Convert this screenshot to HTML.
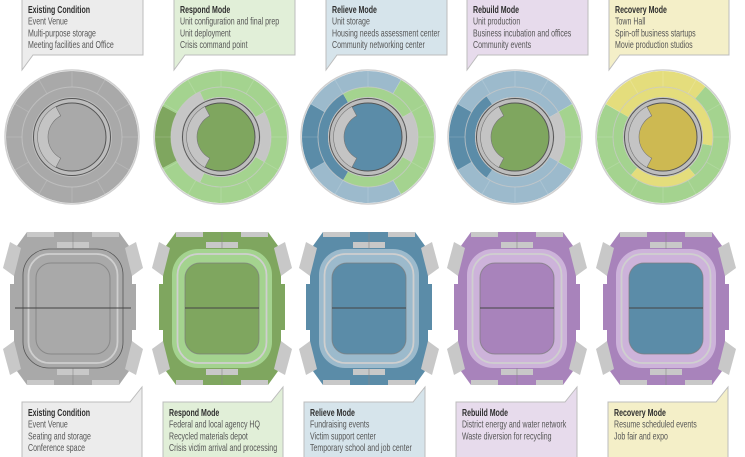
<!DOCTYPE html>
<html><head><meta charset="utf-8">
<style>
html,body{margin:0;padding:0;background:#fff;}
svg{display:block;}
text{font-family:"Liberation Sans Narrow","Liberation Sans",sans-serif;font-size:10.5px;fill:#555;}
text.t{font-weight:bold;fill:#2e2e2e;}
</style></head>
<body>
<svg id="s" width="745" height="457" viewBox="0 0 745 457" xmlns="http://www.w3.org/2000/svg"></svg>
<script>
(function(){
const S=document.getElementById('s');
let out='';
function P(a,r,cx,cy){const t=(a-90)*Math.PI/180;return [cx+r*Math.cos(t),cy+r*Math.sin(t)];}
function sector(cx,cy,r1,r2,a0,a1,fill,extra){
  const large=(a1-a0)>180?1:0;
  const p1=P(a0,r2,cx,cy),p2=P(a1,r2,cx,cy),p3=P(a1,r1,cx,cy),p4=P(a0,r1,cx,cy);
  return `<path d="M${p1[0]},${p1[1]} A${r2},${r2} 0 ${large} 1 ${p2[0]},${p2[1]} L${p3[0]},${p3[1]} A${r1},${r1} 0 ${large} 0 ${p4[0]},${p4[1]} Z" fill="${fill}" ${extra||''}/>`;
}
const G='#a9a9a9',LG='#c6c6c6',GL='#a4d38f',GD='#7fa65f',BL='#9cbacc',BD='#5b8ca8',YL='#e4dd7c',YD='#cdb952',PU='#a883bb',PL='#cdb3da';
const cols=[72,221,368,515,663];
const circ=[
 {outer:[[0,360,G]],mid:[[0,360,G]],inner:G},
 {outer:[[0,242,GL],[242,298,GD],[298,360,GL]],mid:[[0,60,GL],[60,120,LG],[120,205,GL],[205,335,LG],[335,360,GL]],inner:GD},
 {outer:[[0,30,BL],[30,150,GL],[150,240,BL],[240,300,BD],[300,360,BL]],mid:[[0,60,GL],[60,120,LG],[120,210,GL],[210,330,BD],[330,360,GL]],inner:BD},
 {outer:[[0,60,BL],[60,120,GL],[120,240,BL],[240,300,BD],[300,360,BL]],mid:[[0,60,BL],[60,120,LG],[120,215,BL],[215,325,BD],[325,360,BL]],inner:GD},
 {outer:[[0,40,YL],[40,300,GL],[300,360,YL]],mid:[[0,100,YL],[100,140,GL],[140,220,YL],[220,300,GL],[300,360,YL]],inner:YD}
];
const cy=137;
cols.forEach((cx,i)=>{
  const c=circ[i];
  out+=`<circle cx="${cx}" cy="${cy}" r="67" fill="#fff" stroke="#d0d0d0" stroke-width="1.5"/>`;
  c.outer.forEach(s=>{ if(s[1]-s[0]>=360){out+=`<circle cx="${cx}" cy="${cy}" r="66" fill="${s[2]}"/>`;} else out+=sector(cx,cy,50,66,s[0],s[1],s[2]);});
  c.mid.forEach(s=>{ if(s[1]-s[0]>=360){out+=`<circle cx="${cx}" cy="${cy}" r="50" fill="${s[2]}"/>`;} else out+=sector(cx,cy,40,50,s[0],s[1],s[2]);});
  for(let a=0;a<360;a+=30){const p=P(a,50,cx,cy),q=P(a,66,cx,cy);out+=`<line x1="${p[0]}" y1="${p[1]}" x2="${q[0]}" y2="${q[1]}" stroke="#fff" stroke-opacity="0.15"/>`;}
  out+=`<circle cx="${cx}" cy="${cy}" r="50" fill="none" stroke="#c8c8c8" stroke-opacity="0.7" stroke-width="1"/>`;
  out+=`<circle cx="${cx}" cy="${cy}" r="40" fill="#bdbdbd"/>`;
  out+=`<circle cx="${cx}" cy="${cy}" r="38.5" fill="none" stroke="#555" stroke-width="1"/>`;
  out+=`<circle cx="${cx}" cy="${cy}" r="34" fill="${c.inner}" stroke="#555" stroke-width="1"/>`;
  out+=sector(cx,cy,24,34.5,208,332,'#c4c4c4','stroke="#777" stroke-width="0.6"');
});
const st=[
 {body:G,ring:G,field:'#a9a9a9',grey:true},
 {body:GD,ring:GL,field:GD},
 {body:BD,ring:BL,field:BD},
 {body:PU,ring:PL,field:PU},
 {body:PU,ring:PL,field:BD}
];
const sc=[73,222,369,517,666];
sc.forEach((cx,i)=>{
  const s=st[i];const T=232,B=385;
  const X=d=>cx+d;
  out+=`<polygon points="${X(-46)},${T} ${X(46)},${T} ${X(59)},${T+18} ${X(59)},${B-18} ${X(46)},${B} ${X(-46)},${B} ${X(-59)},${B-18} ${X(-59)},${T+18}" fill="${s.body}"/>`;
  out+=`<rect x="${X(-63)}" y="284" width="6" height="46" fill="${s.body}"/><rect x="${X(57)}" y="284" width="6" height="46" fill="${s.body}"/>`;
  [[1,1],[-1,1],[1,-1],[-1,-1]].forEach(([sx,sy])=>{
    const m=(cx2,y)=>`${cx+sx*cx2},${sy>0?y:(T+B)-y}`;
    out+=`<polygon points="${m(52,248)} ${m(63,242)} ${m(70,268)} ${m(59,276)}" fill="#c8c8c8"/>`;
  });
  out+=`<rect x="${X(-46)}" y="${T}" width="27" height="5" fill="#c8c8c8"/><rect x="${X(19)}" y="${T}" width="27" height="5" fill="#c8c8c8"/>`;
  out+=`<rect x="${X(-46)}" y="${B-5}" width="27" height="5" fill="#c8c8c8"/><rect x="${X(19)}" y="${B-5}" width="27" height="5" fill="#c8c8c8"/>`;
  out+=`<rect x="${X(-16)}" y="242" width="32" height="6" fill="#c8c8c8"/><rect x="${X(-16)}" y="369" width="32" height="6" fill="#c8c8c8"/>`;
  out+=`<line x1="${cx}" y1="${T}" x2="${cx}" y2="${B}" stroke="#888" stroke-width="0.6"/>`;
  out+=`<rect x="${X(-50)}" y="249" width="100" height="119" rx="26" fill="${s.ring}" ${s.grey?'stroke="#555" stroke-width="0.8"':''}/>`;
  out+=`<rect x="${X(-44.5)}" y="254" width="89" height="109" rx="21" fill="none" stroke="#cfcfcf" stroke-width="1.8"/>`;
  out+=`<rect x="${X(-37)}" y="263" width="74" height="91" rx="15" fill="${s.field}" stroke="#7a7a7a" stroke-opacity="0.7" stroke-width="1"/>`;
  const lw=s.grey?58:37;
  out+=`<line x1="${X(-lw)}" y1="308" x2="${X(lw)}" y2="308" stroke="#444" stroke-width="0.9"/>`;
});
function tx(x,y,str,cls){return `<text ${cls?'class="t"':''} transform="translate(${x},${y}) scale(0.67,1)">${str}</text>`;}
const topBoxes=[
 {x:22,w:121,f:'#ececec',L:['Existing Condition','Event Venue','Multi-purpose storage','Meeting facilities and Office']},
 {x:174,w:121,f:'#e1efd8',L:['Respond Mode','Unit configuration and final prep','Unit deployment','Crisis command point']},
 {x:326,w:121,f:'#d6e4eb',L:['Relieve Mode','Unit storage','Housing needs assessment center','Community networking center']},
 {x:467,w:121,f:'#e7dbec',L:['Rebuild Mode','Unit production','Business incubation and offices','Community events']},
 {x:609,w:120,f:'#f4efc8',L:['Recovery Mode','Town Hall','Spin-off business startups','Movie production studios']}
];
topBoxes.forEach(b=>{
  const x=b.x,r=b.x+b.w;
  out+=`<path d="M${x},-1 L${r},-1 L${r},55 L${x+11},55 L${x},70 Z" fill="${b.f}" stroke="#bcbcbc" stroke-width="1"/>`;
  b.L.forEach((l,j)=>out+=tx(x+6,13+j*11.7,l,j==0));
});
const botBoxes=[
 {x:22,w:120,f:'#ececec',L:['Existing Condition','Event Venue','Seating and storage','Conference space']},
 {x:163,w:120,f:'#e1efd8',L:['Respond Mode','Federal and local agency HQ','Recycled materials depot','Crisis victim arrival and processing']},
 {x:304,w:121,f:'#d6e4eb',L:['Relieve Mode','Fundraising events','Victim support center','Temporary school and job center']},
 {x:456,w:121,f:'#e7dbec',L:['Rebuild Mode','District energy and water network','Waste diversion for recycling']},
 {x:608,w:120,f:'#f4efc8',L:['Recovery Mode','Resume scheduled events','Job fair and expo']}
];
botBoxes.forEach(b=>{
  const x=b.x,r=b.x+b.w;
  out+=`<path d="M${x},402 L${r-12},402 L${r},387 L${r},458 L${x},458 Z" fill="${b.f}" stroke="#bcbcbc" stroke-width="1"/>`;
  b.L.forEach((l,j)=>out+=tx(x+6,416+j*11.7,l,j==0));
});
S.innerHTML=out;
})();
</script>
</body></html>
